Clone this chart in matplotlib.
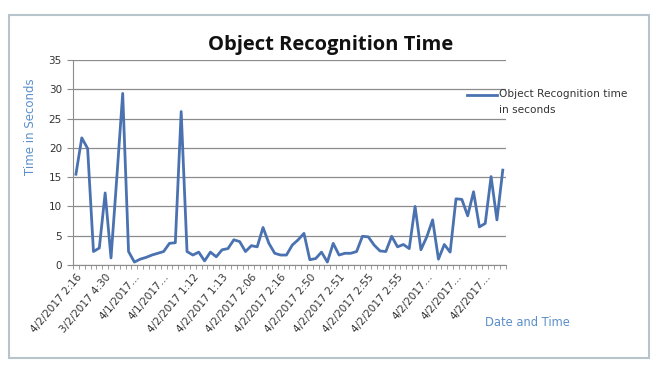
import numpy as np
import matplotlib
matplotlib.use("Agg")
import matplotlib.pyplot as plt
from matplotlib.patches import Rectangle
from matplotlib.lines import Line2D

# recognition time per capture
times = [15.5, 21.7, 19.9, 2.3, 2.9, 12.3, 1.2, 15.0, 29.3, 2.3,
         0.5, 1.0, 1.3, 1.7, 2.0, 2.3, 3.7, 3.8, 26.2, 2.3,
         1.7, 2.2, 0.7, 2.2, 1.4, 2.6, 2.8, 4.3, 4.0, 2.3,
         3.3, 3.1, 6.4, 3.7, 2.0, 1.7, 1.7, 3.4, 4.3, 5.4,
         0.9, 1.1, 2.2, 0.5, 3.7, 1.7, 2.0, 2.0, 2.3, 4.9,
         4.8, 3.4, 2.4, 2.3, 4.9, 3.1, 3.5, 2.8, 10.0, 2.6,
         4.8, 7.7, 1.0, 3.5, 2.2, 11.3, 11.2, 8.4, 12.5, 6.5,
         7.1, 15.1, 7.7, 16.2]

# every 5th category carries a label
tick_labels = ["4/2/2017 2:16", "3/2/2017 4:30", "4/1/2017\u2026", "4/1/2017\u2026",
               "4/2/2017 1:12", "4/2/2017 1:13", "4/2/2017 2:06", "4/2/2017 2:16",
               "4/2/2017 2:50", "4/2/2017 2:51", "4/2/2017 2:55", "4/2/2017 2:55",
               "4/2/2017\u2026", "4/2/2017\u2026", "4/2/2017\u2026"]

series_name = "Object Recognition time\nin seconds"

W, H = 654, 367
fig = plt.figure(figsize=(W / 100, H / 100), dpi=100)
fig.patch.set_facecolor("white")

# light frame around the chart area
fig.patches.append(Rectangle((9 / W, 1 - 358 / H), (649 - 9) / W, (358 - 15) / H,
                             transform=fig.transFigure, fill=False,
                             edgecolor="#b8c4cc", linewidth=1.5))

ax = fig.add_axes([73 / W, 1 - 265 / H, (505.7 - 73) / W, (265 - 60) / H])
n = len(times)
x = np.arange(n)
line_color = "#4a72b0"
ax.plot(x, times, color=line_color, linewidth=2.0)

ax.set_xlim(-0.5, n - 0.5)
ax.set_ylim(0, 35)
ax.set_yticks(range(0, 36, 5))
ax.yaxis.grid(True, color="#8c8c8c", linewidth=0.9)
ax.set_axisbelow(True)

for side in ["top", "right"]:
    ax.spines[side].set_visible(False)
ax.spines["left"].set_color("#8c8c8c")
ax.spines["bottom"].set_color("#8c8c8c")

ax.set_xticks(np.arange(0, n, 5))
ax.set_xticklabels(tick_labels, rotation=50, ha="right", va="top",
                   rotation_mode="anchor", fontsize=7.5, color="#333333")
ax.set_xticks(np.arange(-0.5, n, 1), minor=True)
ax.tick_params(axis="x", which="major", length=0, pad=5)
ax.tick_params(axis="x", which="minor", length=3, color="#8c8c8c")
ax.tick_params(axis="y", length=4, color="#8c8c8c", labelsize=7.5,
               labelcolor="#333333", pad=4)

fig.text(331 / W, 1 - 45 / H, "Object Recognition Time", ha="center", va="center",
         fontsize=14.5, fontweight="bold", family="Open Sans", color="#111111")
fig.text(31 / W, 1 - 127 / H, "Time in Seconds", rotation=90, ha="center",
         va="center", fontsize=8.5, color="#5b8fc9")
fig.text(485 / W, 1 - 323 / H, "Date and Time", ha="left", va="center",
         fontsize=8.3, color="#5b8fc9")

# legend drawn by hand: line at the first text line, wide line spacing
fig.lines.append(Line2D([467 / W, 497 / W], [1 - 95 / H, 1 - 95 / H],
                        transform=fig.transFigure, color=line_color, linewidth=2.0))
fig.text(499 / W, 1 - 89 / H, series_name, ha="left", va="top", fontsize=7.6,
         color="#333333", linespacing=1.75)

fig.savefig("out.png", dpi=100)
